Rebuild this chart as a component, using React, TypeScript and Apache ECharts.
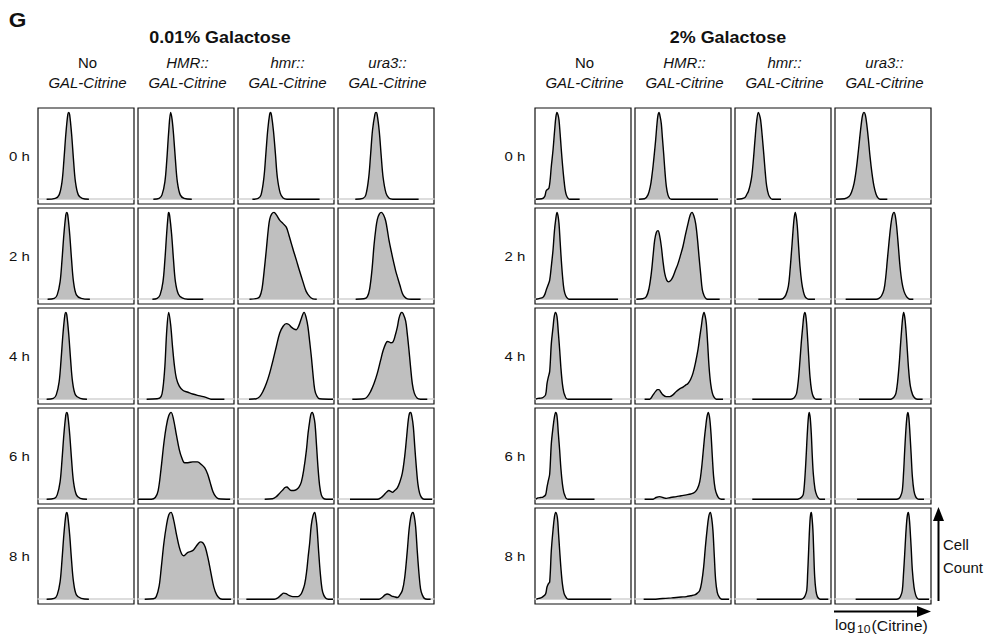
import React, { useEffect, useRef } from "react";
import * as echarts from "echarts";

// ---- labels ----
const timeLabels = ["0 h", "2 h", "4 h", "6 h", "8 h"];
const strainTop = ["No", "HMR::", "hmr::", "ura3::"];
const strainTopItalic = [false, true, true, true];
const strainBottom = "GAL-Citrine";
const panelTitles = ["0.01% Galactose", "2% Galactose"];

// ---- density curves (x: % of log10 Citrine range, y: count / peak), flat x,y pairs ----
// 0.01% Galactose
const lowNo = [
  [9,0,18,0.01,22,0.05,25,0.2,27,0.45,29,0.75,31,0.97,32,1,33,0.97,35,0.75,37,0.45,39,0.2,42,0.05,46,0.01,53,0],
  [10,0,17,0.01,20,0.05,23,0.2,25,0.45,27,0.75,29,0.97,30,1,31,0.97,33,0.75,35,0.45,37,0.2,40,0.05,45,0.01,54,0],
  [9,0,16,0.01,19,0.05,22,0.2,24,0.45,26,0.75,28,0.97,29,1,30,0.97,32,0.75,34,0.45,36,0.2,39,0.05,44,0.01,51,0],
  [9,0,17,0.01,20,0.05,23,0.2,25,0.45,27,0.75,29,0.97,30,1,31,0.97,33,0.75,35,0.45,37,0.2,40,0.05,44,0.01,51,0],
  [9,0,17,0.01,20,0.05,23,0.2,25,0.45,27,0.75,29,0.97,30,1,31,0.96,33,0.74,35,0.44,37,0.2,40,0.05,45,0.01,53,0],
];
const lowHMR = [
  [16,0,22,0.01,25,0.05,28,0.2,30,0.45,32,0.78,34,1,35.5,0.92,37,0.75,39,0.45,41,0.2,44,0.05,48,0.01,56,0],
  [15,0,20,0.01,23,0.05,26,0.2,28,0.45,30,0.78,31.5,0.98,32,1,33,0.96,35,0.75,37,0.45,39,0.2,42,0.06,46,0.015,52,0,68,0],
  [9,0,20,0.005,24,0.03,26,0.13,28,0.38,30,0.8,32,1,34,0.86,36,0.6,38,0.38,40,0.24,43,0.15,47,0.1,52,0.08,57,0.06,62,0.045,68,0.03,72,0.015,76,0,90,0],
  [0,0,14,0,18,0.02,21,0.1,24,0.35,27,0.65,29.5,0.84,32,0.96,34.5,1,37,0.92,40,0.74,43,0.57,45.5,0.48,48.5,0.42,52,0.42,57,0.43,62,0.43,66,0.4,69.5,0.36,72.5,0.29,75,0.2,78,0.09,81,0.03,84,0.005,96,0],
  [7,0,16,0.005,19,0.03,22,0.15,24.3,0.37,27,0.65,29.5,0.84,32,0.97,34.4,1,37,0.92,40,0.75,43,0.6,45.5,0.52,47.5,0.5,50,0.52,52,0.54,55,0.55,58,0.57,62,0.63,65,0.66,67.5,0.65,70,0.6,73,0.47,76,0.3,79,0.14,82,0.05,85,0.01,88,0,97,0],
];
const lowHmr = [
  [15,0,21,0.01,24,0.05,27,0.25,29,0.52,31,0.8,33,0.98,34,1,35,0.96,37,0.78,39,0.52,41,0.25,44,0.07,47,0.015,51,0,85,0],
  [12,0,20,0.01,22.6,0.03,25,0.12,27,0.3,29.5,0.57,31.5,0.8,33,0.92,35,0.98,37.5,1,40,0.97,43.4,0.91,47,0.87,50.3,0.83,53,0.74,55.6,0.64,58,0.55,60.8,0.45,64,0.33,67.7,0.2,71,0.09,74.7,0.03,78,0.005,82,0],
  [11.5,0,19,0.005,22.6,0.03,26,0.09,29.5,0.18,33,0.3,36.5,0.45,40,0.61,43.4,0.76,47,0.84,50.3,0.87,53,0.86,55.6,0.83,58,0.81,60.8,0.8,63.5,0.85,66,0.93,68.8,1,71,0.94,72.9,0.83,74.7,0.66,76.4,0.49,78,0.3,79.9,0.11,82,0.04,85,0.005,99,0],
  [27.8,0,36,0.005,40,0.03,43.5,0.07,46.9,0.11,49,0.135,51,0.14,53,0.12,55.6,0.1,58,0.1,60.8,0.11,63.5,0.14,66,0.2,68.5,0.34,71.2,0.56,73,0.76,74.7,0.9,76,0.98,77.4,1,78.8,0.96,80.2,0.87,81.8,0.62,83.3,0.37,85,0.16,86.8,0.05,89,0.01,92,0,99,0],
  [8.7,0,38,0,42,0.02,45,0.05,47.6,0.07,50,0.065,53,0.045,57.3,0.03,60,0.03,62.5,0.03,65,0.05,67,0.09,69.4,0.17,71.5,0.32,73,0.48,74.7,0.65,76.3,0.85,78.1,0.96,79.9,1,81.2,0.93,82.3,0.83,84,0.55,85.8,0.29,87.5,0.12,89.2,0.05,91.5,0.01,94,0,99,0],
];
const lowUra3 = [
  [18,0,26,0.01,29,0.05,32,0.25,34,0.52,36,0.8,38.5,0.98,39.6,1,40.7,0.98,43,0.78,45,0.5,47,0.25,50,0.07,53,0.015,57,0,84,0],
  [18.4,0,27,0.005,30.6,0.03,33,0.12,35.5,0.35,37.5,0.62,39.5,0.82,41,0.92,43,0.98,45.1,1,47.5,0.97,49.7,0.9,51.5,0.79,53.1,0.68,55.5,0.55,58.3,0.41,60,0.33,61.8,0.26,64.5,0.16,67,0.07,69.5,0.025,72.2,0.005,76,0,86,0],
  [14.9,0,27,0.005,30.6,0.03,34,0.09,37.5,0.18,41,0.3,44.4,0.45,47,0.56,49.7,0.64,51.5,0.665,53.1,0.66,55,0.65,57.3,0.66,59.5,0.73,61.8,0.83,63.5,0.93,65.3,0.99,66.6,1,68,0.98,70.5,0.9,72.2,0.75,73.9,0.57,75.6,0.37,77.4,0.18,79.5,0.07,82.6,0.01,86,0,93,0],
  [12.5,0,41,0,45,0.02,47.9,0.05,50.5,0.08,53.1,0.1,55,0.09,56.6,0.08,59,0.1,61.8,0.13,64.5,0.2,67,0.3,69,0.45,70.5,0.6,72,0.78,73.3,0.92,74.5,0.99,75.7,1,77,0.95,78.5,0.83,80,0.6,81.6,0.37,83.3,0.17,85,0.07,87,0.02,89.6,0,98,0],
  [22.9,0,42.7,0,46,0.02,49,0.05,51.4,0.06,54,0.05,56,0.035,58.3,0.03,61.8,0.02,64.5,0.05,67,0.1,69.5,0.25,72.2,0.56,74,0.8,75.7,0.94,77,0.99,78.1,1,79.5,0.95,80.9,0.83,82.6,0.55,84.4,0.29,86,0.12,87.8,0.05,90,0.01,93,0,96.5,0],
];
// 2% Galactose
const highNo = [
  [0.7,0,7,0.005,10,0.03,11.8,0.1,14.6,0.13,17,0.38,18.8,0.57,20.5,0.8,21.8,0.95,22.9,1,24,0.97,25,0.91,26.2,0.75,27.4,0.57,28.8,0.38,30.2,0.22,31.4,0.11,32.6,0.05,34.5,0.01,36,0,46.5,0],
  [0.7,0,4.9,0.01,8,0.02,10,0.05,11.8,0.11,13.5,0.16,15.3,0.22,17,0.38,18.8,0.57,20.2,0.78,21.5,0.91,22.9,1,24,0.96,25,0.87,26.2,0.66,27.4,0.45,28.8,0.25,30.2,0.11,32,0.04,34.4,0.005,36,0,86.5,0],
  [0.7,0,3.1,0.01,6,0.012,8.3,0.02,11,0.05,12.5,0.18,14,0.26,15.3,0.32,17,0.64,18.8,0.83,20,0.95,21.2,1,22.9,0.95,24.3,0.77,25.7,0.57,27,0.36,28.5,0.18,30,0.08,30.9,0.05,32.5,0.01,34.4,0,80.5,0],
  [0.7,0,3,0.015,6,0.02,8.3,0.025,11,0.05,12.5,0.14,14,0.22,15.3,0.29,17,0.64,18.8,0.83,20.3,0.95,21.5,1,22.9,0.96,24.3,0.76,25.7,0.56,27,0.35,28.5,0.18,30,0.08,30.9,0.05,32.5,0.01,34.4,0,62,0],
  [1.4,0,4,0.01,6,0.015,8.3,0.03,11,0.06,12.5,0.14,14,0.18,15.3,0.2,17,0.56,18.8,0.8,20.3,0.95,21.5,1,23.3,0.94,24.5,0.76,25.7,0.56,27,0.36,28.5,0.18,30.2,0.07,31.9,0.03,33.5,0.005,35.4,0,79.5,0],
];
const highHMR = [
  [4.2,0,10,0.005,13.5,0.05,16,0.15,17.5,0.26,18.8,0.38,20.2,0.53,21.5,0.68,23,0.88,24,0.97,25,1,26.2,0.95,27.4,0.87,28.6,0.7,29.9,0.52,31.2,0.32,32.6,0.15,34.3,0.05,36.1,0.01,38,0,86.5,0],
  [1.4,0,8,0.005,11.8,0.03,14.5,0.12,17,0.3,19,0.52,20.5,0.68,22.3,0.77,24,0.79,25.5,0.74,27.4,0.61,29,0.45,30.9,0.3,33,0.22,35,0.2,37.5,0.22,39.6,0.26,42,0.33,44.8,0.41,47.5,0.51,50,0.61,52.5,0.74,55.2,0.87,57.5,0.97,59.4,1,61.3,0.96,63.2,0.87,65,0.7,66.7,0.49,68.5,0.28,70.1,0.11,72,0.04,74.3,0.005,77,0,88.2,0],
  [10,0,15.3,0,18.8,0.05,21.5,0.09,23.5,0.11,25,0.11,27,0.08,29.2,0.05,32.5,0.03,36.1,0.03,39.5,0.05,43,0.09,46.5,0.12,50,0.14,52.5,0.16,55.2,0.18,58,0.23,60.4,0.3,63,0.42,65.6,0.57,67.5,0.72,69.1,0.84,70.5,0.95,71.9,1,73.2,0.95,74.3,0.87,75.7,0.64,77.1,0.38,78.8,0.18,80.6,0.07,82.5,0.02,84.7,0,91.7,0],
  [10,0,18.8,0,22,0.02,25.7,0.03,29,0.02,32.6,0.01,37,0.02,43,0.03,48,0.04,53.5,0.05,58,0.06,62.2,0.08,65,0.12,67.4,0.2,69.2,0.34,70.8,0.52,72.3,0.7,73.6,0.83,75,0.95,76.4,1,77.8,0.93,79.2,0.75,80.5,0.5,81.9,0.26,83.5,0.12,85.4,0.05,87.5,0.01,90,0,93.4,0],
  [9,0,20,0,25.7,0.005,32,0.01,38,0.015,43,0.02,48,0.025,53.5,0.03,58,0.04,62.2,0.05,65,0.07,67.4,0.1,69.5,0.2,71.5,0.37,73.3,0.6,75,0.79,76.8,0.95,78.5,1,79.9,0.93,81.2,0.79,82.6,0.5,84,0.22,85.7,0.08,87.5,0.03,89.5,0.005,91.7,0,97.9,0],
];
const highHmr = [
  [1.7,0,7,0.005,10.4,0.02,12.5,0.06,13.9,0.09,15.7,0.16,17.4,0.26,19.2,0.46,20.8,0.68,22.6,0.9,24.3,1,25.5,0.97,26.7,0.91,28.5,0.71,30.2,0.49,31.6,0.3,33,0.15,35,0.05,37.2,0.01,39,0,47.9,0],
  [24.3,0,47,0,50.3,0.01,53,0.05,55.6,0.15,57.3,0.33,59,0.57,60,0.72,60.8,0.84,61.8,0.95,62.8,1,63.8,0.95,64.9,0.84,66.3,0.6,67.7,0.38,69.5,0.19,71.2,0.09,73,0.03,75.3,0.005,77,0,83.3,0],
  [18,0,58,0,60.8,0.01,62.5,0.03,64.2,0.07,66,0.22,67.7,0.45,69.1,0.66,70.5,0.83,71.7,0.96,72.9,1,74.1,0.93,75.3,0.76,76.7,0.5,78.1,0.26,79.8,0.1,81.6,0.03,83.3,0.005,85,0,90.3,0],
  [18,0,65,0,67.7,0.01,69.5,0.025,71.2,0.06,72.5,0.2,73.9,0.45,74.8,0.65,75.7,0.83,76.6,0.96,77.4,1,78.4,0.93,79.5,0.75,80.5,0.5,81.6,0.29,83.3,0.12,85,0.05,86.7,0.015,88.5,0,93.8,0],
  [22.6,0,69,0,71.2,0.01,73,0.04,74.7,0.1,75.7,0.3,76.7,0.56,77.4,0.75,78.1,0.9,78.8,0.98,79.5,1,80.3,0.93,81.2,0.79,82,0.55,83,0.26,84.3,0.1,85.8,0.03,87.8,0.005,90.3,0,97.2,0],
];
const highUra3 = [
  [0.7,0,10,0.005,14.6,0.03,17.2,0.08,19.8,0.18,22,0.33,24,0.52,25.7,0.7,27.4,0.87,28.8,0.97,30.2,1,31.6,0.97,33,0.87,34.7,0.7,36.5,0.49,38.5,0.3,40.6,0.15,42.7,0.06,44.8,0.015,47,0,54.5,0],
  [11.1,0,43,0,45.8,0.01,48.5,0.04,51,0.11,52.8,0.25,54.5,0.45,56.3,0.66,58,0.84,59.7,0.96,61.5,1,62.8,0.96,64.2,0.84,66,0.61,67.7,0.38,69.8,0.19,71.9,0.09,74.5,0.03,77,0.005,79,0,81.6,0],
  [25,0,58,0,60,0.01,61.8,0.03,63.5,0.07,65.2,0.2,66.9,0.41,68.2,0.62,69.4,0.8,70.5,0.94,71.5,1,72.7,0.94,73.9,0.8,75.3,0.57,76.7,0.34,78.5,0.15,80.9,0.05,83.5,0.01,86.1,0,91.3,0],
  [23,0,64,0,66.7,0.01,68.5,0.04,70.1,0.1,71.4,0.3,72.6,0.56,73.5,0.74,74.3,0.87,75.2,0.97,76,1,77,0.93,78.1,0.75,79.4,0.5,80.6,0.26,82.2,0.1,84,0.03,85.8,0.005,87.5,0,92.7,0],
  [21.5,0,64,0,66.7,0.01,68.5,0.04,70.1,0.1,71.4,0.3,72.6,0.52,73.7,0.74,74.7,0.9,75.6,0.98,76.4,1,77.3,0.94,78.1,0.83,79.4,0.58,80.6,0.33,82.3,0.14,84,0.05,85.8,0.01,87.5,0,97.9,0],
];

const panels = [
  { lefts: [38, 138, 238, 338], curves: [lowNo, lowHMR, lowHmr, lowUra3], labelX: 19.5, titleX: 220 },
  { lefts: [535, 635, 735, 835], curves: [highNo, highHMR, highHmr, highUra3], labelX: 515, titleX: 728 },
];
const rowTops = [108, 208, 308, 408, 508];
const CELL = 96;
const FONT = "'Liberation Sans', Arial, Helvetica, sans-serif";

function toPairs(flat: number[]): number[][] {
  const out: number[][] = [];
  for (let i = 0; i + 1 < flat.length; i += 2) out.push([flat[i], flat[i + 1]]);
  return out;
}

function txt(text: string, x: number, y: number, o: any = {}) {
  return {
    type: "text",
    x,
    y,
    scaleX: o.scaleX ?? 1.1,
    silent: true,
    style: {
      text,
      fontFamily: FONT,
      fontSize: o.size ?? 14,
      fontWeight: o.weight ?? "normal",
      fontStyle: o.italic ? "italic" : "normal",
      fill: "#111",
      align: o.align ?? "center",
      verticalAlign: "middle",
      textAlign: o.align ?? "center",
      textVerticalAlign: "middle",
    },
  };
}

function buildOption() {
  const grid: any[] = [];
  const xAxis: any[] = [];
  const yAxis: any[] = [];
  const series: any[] = [];
  const graphic: any[] = [];
  panels.forEach((p) => {
    p.curves.forEach((col, c) => {
      col.forEach((curve, r) => {
        const idx = grid.length;
        grid.push({
          left: p.lefts[c],
          top: rowTops[r],
          width: CELL,
          height: CELL,
          show: true,
          borderColor: "#111",
          borderWidth: 1.2,
          backgroundColor: "#fff",
        });
        xAxis.push({
          gridIndex: idx,
          type: "value",
          min: 0,
          max: 100,
          axisLine: { show: true, onZero: true, lineStyle: { color: "#d2d2d2", width: 1.5 } },
          axisTick: { show: false },
          axisLabel: { show: false },
          splitLine: { show: false },
        });
        yAxis.push({
          gridIndex: idx,
          type: "value",
          min: -0.055,
          max: 1.05,
          axisLine: { show: false },
          axisTick: { show: false },
          axisLabel: { show: false },
          splitLine: { show: false },
        });
        series.push({
          type: "line",
          xAxisIndex: idx,
          yAxisIndex: idx,
          data: toPairs(curve),
          symbol: "none",
          showSymbol: false,
          smooth: 0.35,
          silent: true,
          lineStyle: { color: "#000", width: 1.4 },
          areaStyle: { color: "#bfbfbf", opacity: 1 },
        });
      });
      // column headers
      const cx = p.lefts[c] + CELL / 2 + 1.5;
      graphic.push(txt(strainTop[c], cx, 63, { italic: strainTopItalic[c], scaleX: 1.07 }));
      graphic.push(txt(strainBottom, cx, 83, { italic: true, scaleX: 1.07 }));
    });
    rowTops.forEach((t, r) => {
      graphic.push(txt(timeLabels[r], p.labelX, t + 48.5, { size: 13, scaleX: 1.15 }));
    });
  });
  graphic.push(txt(panelTitles[0], panels[0].titleX, 38, { size: 16, weight: "bold", scaleX: 1.12 }));
  graphic.push(txt(panelTitles[1], panels[1].titleX, 38, { size: 16, weight: "bold", scaleX: 1.12 }));
  graphic.push(txt("G", 17.5, 20, { size: 21, weight: "bold", scaleX: 1.08 }));
  // Cell Count
  graphic.push(txt("Cell", 943, 545, { align: "left", scaleX: 1.07 }));
  graphic.push(txt("Count", 943, 568, { align: "left", scaleX: 1.07 }));
  // log10(Citrine)
  graphic.push(txt("log", 835, 625, { align: "left", scaleX: 1.1 }));
  graphic.push(txt("10", 857, 629.5, { align: "left", size: 11, scaleX: 1.1 }));
  graphic.push(txt("(Citrine)", 871.5, 626, { align: "left", scaleX: 1.13 }));
  // arrows
  graphic.push({ type: "line", silent: true, shape: { x1: 938.5, y1: 601, x2: 938.5, y2: 518 }, style: { stroke: "#000", lineWidth: 2 } });
  graphic.push({ type: "polygon", silent: true, shape: { points: [[938.5, 507], [933, 521], [944, 521]] }, style: { fill: "#000" } });
  graphic.push({ type: "line", silent: true, shape: { x1: 834, y1: 611.5, x2: 920, y2: 611.5 }, style: { stroke: "#000", lineWidth: 2 } });
  graphic.push({ type: "polygon", silent: true, shape: { points: [[931, 611.5], [917, 606], [917, 617]] }, style: { fill: "#000" } });

  return {
    animation: false,
    backgroundColor: "#fff",
    grid,
    xAxis,
    yAxis,
    series,
    graphic: { elements: graphic },
  };
}

export default function App() {
  const ref = useRef<HTMLDivElement>(null);
  useEffect(() => {
    if (!ref.current) return;
    const chart = echarts.init(ref.current, undefined, { renderer: "svg" });
    chart.setOption(buildOption() as any);
    return () => chart.dispose();
  }, []);
  return (
    <div
      ref={ref}
      style={{ position: "absolute", left: 0, top: 0, width: 986, height: 639, background: "#fff" }}
    />
  );
}
